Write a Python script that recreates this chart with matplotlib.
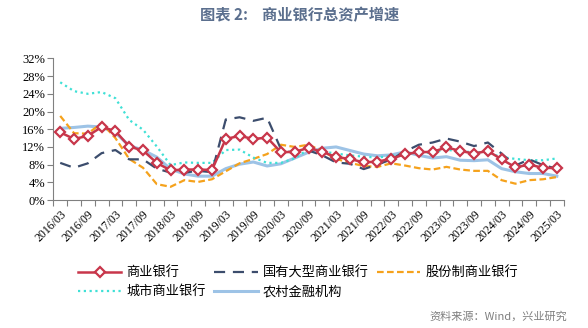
import numpy as np
import matplotlib
matplotlib.use("Agg")
import matplotlib.pyplot as plt

plt.rcParams['font.family'] = ['Noto Sans CJK SC', 'DejaVu Sans']

# 季度数据 2016/03 - 2025/03
dates = []
for yr in range(2016, 2026):
    for m in ['03', '06', '09', '12']:
        dates.append(f"{yr}/{m}")
dates = dates[:37]

commercial = [15.3, 13.8, 14.5, 16.5, 15.6, 12.1, 11.2, 8.4, 6.7, 6.9, 6.9, 6.8,
              13.8, 14.5, 13.8, 14.1, 10.8, 10.9, 11.8, 10.9, 9.7, 9.3, 8.5, 8.7,
              9.3, 10.4, 10.8, 10.9, 11.9, 11.1, 10.5, 11.1, 9.2, 7.4, 8.0, 7.3, 7.2]
big_state = [8.4, 7.3, 8.3, 10.6, 11.3, 9.2, 9.2, 7.1, 6.2, 6.2, 6.6, 6.3,
             18.2, 18.7, 17.9, 18.6, 11.5, 10.5, 11.2, 10.1, 8.5, 8.2, 7.0, 8.0,
             9.2, 11.0, 12.5, 13.0, 13.9, 13.2, 12.2, 13.0, 10.5, 7.8, 9.2, 7.9, 7.1]
joint_stock = [19.0, 15.1, 15.0, 17.4, 14.0, 9.3, 7.3, 3.6, 3.0, 4.5, 4.1, 4.7,
               6.5, 8.3, 9.3, 10.4, 12.5, 12.0, 12.5, 11.1, 9.3, 8.4, 7.7, 7.5,
               8.3, 7.8, 7.2, 6.9, 7.5, 6.9, 6.6, 6.6, 4.5, 3.7, 4.5, 4.7, 5.2]
city = [26.6, 24.6, 24.0, 24.4, 23.0, 18.1, 15.9, 12.1, 7.9, 8.5, 8.4, 8.4,
        11.3, 11.4, 9.6, 8.4, 8.4, 9.4, 11.5, 11.0, 10.5, 10.1, 9.8, 9.6,
        10.0, 10.5, 10.5, 10.8, 11.4, 10.9, 10.9, 10.7, 9.7, 9.3, 9.0, 9.0, 9.4]
rural = [16.2, 16.4, 16.7, 16.5, 15.2, 12.3, 11.3, 9.7, 7.0, 5.9, 5.4, 5.4,
         7.1, 8.1, 8.6, 7.7, 8.2, 9.5, 10.8, 11.7, 12.0, 11.2, 10.4, 10.0,
         10.2, 10.9, 10.1, 9.5, 9.8, 9.0, 8.9, 9.1, 7.1, 6.4, 6.0, 6.0, 5.4]

x = np.arange(len(dates))

fig = plt.figure(figsize=(5.88, 3.28), dpi=100)
ax = fig.add_axes([0.0907, 0.390, 0.868, 0.432])

l1, = ax.plot(x, commercial, color='#C8364A', lw=1.8, marker='D', ms=5,
              mfc='white', mec='#C8364A', mew=1.6, zorder=5, label='商业银行')
l2, = ax.plot(x, big_state, color='#3C4D6D', lw=1.6, ls=(0, (5, 3.5)), zorder=4,
              label='国有大型商业银行')
l3, = ax.plot(x, joint_stock, color='#F5A21C', lw=1.6, ls=(0, (3, 1.5)), zorder=3,
              label='股份制商业银行')
l4, = ax.plot(x, city, color='#3FE0D6', lw=1.6, ls=(0, (1, 1.6)), zorder=3,
              label='城市商业银行')
l5, = ax.plot(x, rural, color='#9DC3E6', lw=2.2, zorder=2, label='农村金融机构')

ax.set_xlim(-0.5, len(dates) - 0.5)
ax.set_ylim(0, 32)
ax.set_yticks(np.arange(0, 33, 4))
ax.set_yticklabels([f"{v}%" for v in range(0, 33, 4)], family='Liberation Serif',
                   fontsize=9)

# 类别轴: 刻度在类别之间
ax.set_xticks(np.arange(-0.5, len(dates), 1))
ax.set_xticklabels([])
ax.tick_params(axis='x', which='major', length=4, color='#808080', direction='out')
ax.set_xticks(x[::2], minor=True)
ax.set_xticklabels(dates[::2], minor=True, rotation=45, ha='right',
                   rotation_mode='anchor', family='Liberation Serif', fontsize=8.5)
ax.tick_params(axis='x', which='minor', length=0, pad=6)
ax.tick_params(axis='y', length=4, color='#808080', direction='out', pad=2)

for s in ['top', 'right']:
    ax.spines[s].set_visible(False)
ax.spines['bottom'].set_color('#808080')
ax.spines['left'].set_color('#808080')

fig.text(0.51, 0.955, '图表 2:    商业银行总资产增速', ha='center', va='center',
         fontsize=11, fontweight='bold', color='#5B6F8E')

# 按行排列图例
fig.legend(handles=[l1, l4, l2, l5, l3], ncol=3, loc='upper left',
           bbox_to_anchor=(0.112, 0.225), frameon=False, fontsize=9.5,
           handlelength=3.3, columnspacing=0.6, handletextpad=0.4,
           labelspacing=0.45)

fig.text(0.965, 0.018, '资料来源：Wind，兴业研究', ha='right', va='bottom',
         fontsize=8, color='#7F7F7F')

fig.savefig('out.png', dpi=100)
